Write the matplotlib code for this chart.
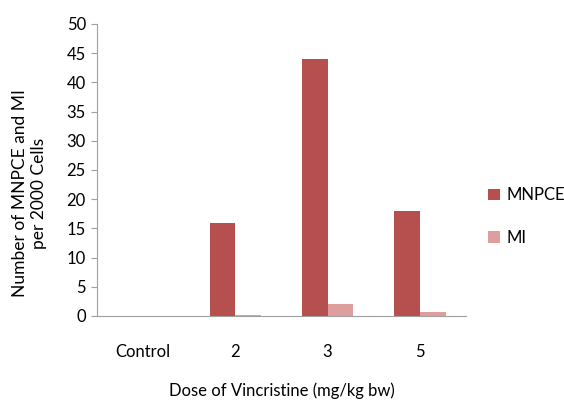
import numpy as np
import matplotlib.pyplot as plt

plt.rcParams['font.family'] = ['Lato', 'DejaVu Sans']

categories = ["Control", "2", "3", "5"]
mnpce = [0, 16, 44, 18]
mi = [0, 0.2, 2, 0.6]

fig = plt.figure(figsize=(5.64, 4.0), dpi=100)
ax = fig.add_axes([0.172, 0.21, 0.654, 0.73])

x = np.arange(len(categories))
w = 0.28
ax.bar(x - w / 2, mnpce, w, color="#B5504F", label="MNPCE")
ax.bar(x + w / 2, mi, w, color="#DE9E9E", label="MI")

ax.set_xlim(-0.5, len(categories) - 0.5)
ax.set_ylim(0, 50)
ax.set_yticks(range(0, 51, 5))
ax.set_xticks(x)
ax.set_xticklabels(categories)

for s in ["top", "right"]:
    ax.spines[s].set_visible(False)
ax.spines["left"].set_color("#A0A0A0")
ax.spines["bottom"].set_color("#A0A0A0")
ax.tick_params(axis="y", length=4, color="#A0A0A0", labelsize=12, pad=4)
ax.tick_params(axis="x", length=0, labelsize=12, pad=20)

ax.set_ylabel("Number of MNPCE and MI\nper 2000 Cells", fontsize=12.5,
              linespacing=1.25)
ax.yaxis.set_label_coords(-0.135, 0.42)
ax.set_xlabel("Dose of Vincristine (mg/kg bw)", fontsize=12, labelpad=16)

ax.legend(loc="center left", bbox_to_anchor=(1.02, 0.34), frameon=False,
          fontsize=12, handlelength=0.7, handleheight=0.7, labelspacing=1.6,
          handletextpad=0.4)

fig.savefig("out.png")
